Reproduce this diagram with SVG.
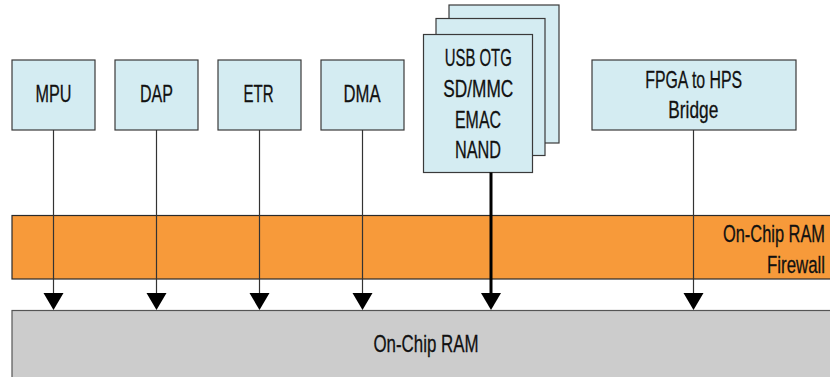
<svg xmlns="http://www.w3.org/2000/svg" width="830" height="377" viewBox="0 0 830 377">
<defs>
<style>
.box{fill:#d4ecf2;stroke:#3a3a3a;stroke-width:1.2}
.t{font-family:"Liberation Sans Narrow","Liberation Sans",Arial,sans-serif;font-size:24.5px;fill:#111;stroke:#111;stroke-width:0.3;text-anchor:middle}
.c{stroke:#333;stroke-width:1.2;fill:none}
.ck{stroke:#000;stroke-width:3;fill:none}
.ah{fill:#000}
</style>
</defs>
<rect width="830" height="377" fill="#fff"/>
<g id="firewall">
<rect x="12" y="215.5" width="819" height="63.5" fill="#f79a3a" stroke="#2a2a2a" stroke-width="1.2"/>
<text class="t" x="825" y="242" style="text-anchor:end" textLength="102" lengthAdjust="spacingAndGlyphs">On-Chip RAM</text>
<text class="t" x="825" y="273" style="text-anchor:end" textLength="58" lengthAdjust="spacingAndGlyphs">Firewall</text>
</g>
<g id="ram">
<rect x="12" y="310.5" width="819" height="80" fill="#cccccc" stroke="#555" stroke-width="1.2"/>
<text class="t" x="426" y="352" textLength="105" lengthAdjust="spacingAndGlyphs">On-Chip RAM</text>
</g>
<g id="mpu"><rect class="box" x="12" y="60" width="83" height="70"/><text class="t" x="53.5" y="102" textLength="36" lengthAdjust="spacingAndGlyphs">MPU</text></g>
<g id="dap"><rect class="box" x="115" y="60" width="83" height="70"/><text class="t" x="156.5" y="102" textLength="33" lengthAdjust="spacingAndGlyphs">DAP</text></g>
<g id="etr"><rect class="box" x="218" y="60" width="83" height="70"/><text class="t" x="258.5" y="102" textLength="30" lengthAdjust="spacingAndGlyphs">ETR</text></g>
<g id="dma"><rect class="box" x="321" y="60" width="83" height="70"/><text class="t" x="362" y="102" textLength="37" lengthAdjust="spacingAndGlyphs">DMA</text></g>
<g id="periph">
<rect class="box" x="449" y="5" width="110" height="138"/>
<rect class="box" x="436" y="18.5" width="109" height="137"/>
<rect class="box" x="423.5" y="34.5" width="109" height="138"/>
<text class="t" x="478.3" y="66" textLength="67" lengthAdjust="spacingAndGlyphs">USB OTG</text>
<text class="t" x="478.3" y="97" textLength="70" lengthAdjust="spacingAndGlyphs">SD/MMC</text>
<text class="t" x="478" y="127.5" textLength="46" lengthAdjust="spacingAndGlyphs">EMAC</text>
<text class="t" x="478" y="158" textLength="46" lengthAdjust="spacingAndGlyphs">NAND</text>
</g>
<g id="fpga"><rect class="box" x="592" y="60" width="204" height="70"/><text class="t" x="693.7" y="88" textLength="97" lengthAdjust="spacingAndGlyphs">FPGA to HPS</text><text class="t" x="693.3" y="118" textLength="50" lengthAdjust="spacingAndGlyphs">Bridge</text></g>
<g id="connectors">
<line class="c" x1="53.5" y1="130" x2="53.5" y2="294"/>
<line class="c" x1="156.5" y1="130" x2="156.5" y2="294"/>
<line class="c" x1="259.5" y1="130" x2="259.5" y2="294"/>
<line class="c" x1="362.5" y1="130" x2="362.5" y2="294"/>
<line class="ck" x1="491" y1="172.5" x2="491" y2="294"/>
<line class="c" x1="693.5" y1="130" x2="693.5" y2="294"/>
<polygon class="ah" points="43.5,293 63.5,293 53.5,310"/>
<polygon class="ah" points="146.5,293 166.5,293 156.5,310"/>
<polygon class="ah" points="249.5,293 269.5,293 259.5,310"/>
<polygon class="ah" points="352.5,293 372.5,293 362.5,310"/>
<polygon class="ah" points="481,293 501,293 491,310"/>
<polygon class="ah" points="683.5,293 703.5,293 693.5,310"/>
</g>
</svg>
